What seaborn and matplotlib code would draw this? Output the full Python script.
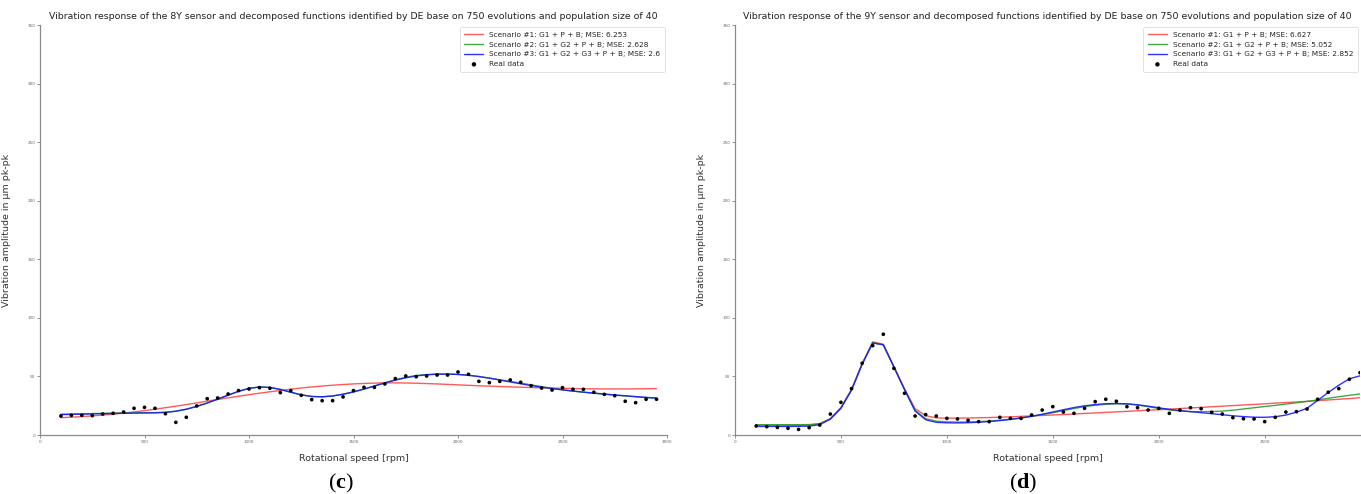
import numpy as np
import pandas as pd
import matplotlib
matplotlib.use("Agg")
import matplotlib.pyplot as plt
import seaborn as sns

# ---------------- data ----------------
rpm = list(range(100, 3000, 50))

data_8y = [16.2, 16.8, 16.8, 16.5, 17.9, 18.5, 19.6, 22.8, 23.6, 22.8,
           18.2, 10.8, 15.1, 24.8, 31.0, 31.6, 35.0, 37.9, 39.3, 40.4,
           39.9, 36.2, 37.9, 33.9, 30.2, 29.3, 29.3, 32.5, 37.9, 40.7,
           40.7, 43.6, 48.1, 50.4, 49.8, 50.4, 51.2, 51.2, 53.8, 51.8,
           45.8, 44.7, 45.8, 47.0, 45.0, 42.1, 40.1, 38.4, 40.4, 39.0,
           39.0, 36.5, 34.7, 33.6, 28.8, 27.6, 30.5, 30.5]

s1_8y = [14.8, 15.2, 15.7, 16.3, 17.0, 17.8, 18.7, 19.7, 20.8, 22.0,
         23.3, 24.6, 26.0, 27.4, 28.9, 30.3, 31.7, 33.1, 34.4, 35.7,
         36.9, 38.0, 39.1, 40.1, 41.0, 41.8, 42.5, 43.1, 43.6, 44.0,
         44.3, 44.5, 44.5, 44.4, 44.2, 43.9, 43.6, 43.2, 42.8, 42.4,
         42.0, 41.7, 41.4, 41.1, 40.8, 40.5, 40.3, 40.1, 39.9, 39.7,
         39.5, 39.4, 39.3, 39.3, 39.3, 39.4, 39.5, 39.6]

s2_8y = [17.7, 17.9, 18.1, 18.3, 18.5, 18.6, 18.8, 18.9, 19.0, 19.1,
         19.4, 20.3, 22.0, 24.4, 27.3, 30.6, 34.0, 37.3, 39.8, 41.0,
         40.6, 38.9, 36.5, 34.3, 32.9, 32.6, 33.3, 34.8, 36.8, 39.2,
         41.9, 44.6, 47.2, 49.3, 50.8, 51.6, 52.0, 52.0, 51.7, 51.0,
         49.9, 48.6, 47.2, 45.8, 44.3, 42.8, 41.3, 39.9, 38.6, 37.5,
         36.5, 35.6, 34.8, 34.0, 33.3, 32.6, 32.0, 31.4]

s3_8y = [17.4, 17.6, 17.8, 18.0, 18.2, 18.4, 18.6, 18.7, 18.8, 18.9,
         19.3, 20.3, 22.0, 24.4, 27.3, 30.6, 34.0, 37.3, 39.8, 41.0,
         40.6, 38.9, 36.5, 34.3, 32.9, 32.6, 33.3, 34.8, 36.8, 39.2,
         41.8, 44.4, 46.8, 48.8, 50.4, 51.4, 51.9, 52.0, 51.7, 51.0,
         49.9, 48.5, 46.9, 45.3, 43.7, 42.2, 40.8, 39.6, 38.5, 37.5,
         36.6, 35.8, 35.0, 34.2, 33.5, 32.8, 32.1, 31.5]

data_9y = [7.7, 7.1, 6.5, 5.7, 4.8, 6.3, 8.5, 17.9, 27.9, 39.6,
           61.2, 76.3, 86.0, 56.9, 35.6, 16.2, 17.4, 16.2, 14.2, 13.7,
           12.5, 11.4, 11.4, 15.1, 14.2, 14.2, 17.1, 21.3, 24.2, 19.6,
           18.5, 22.8, 28.5, 30.5, 28.8, 24.2, 23.3, 21.3, 22.8, 18.5,
           21.3, 23.3, 22.5, 19.4, 17.9, 14.8, 13.9, 13.7, 11.4, 15.1,
           19.6, 19.9, 22.2, 30.5, 36.5, 39.6, 47.6, 53.2]

s1_9y = [8.2, 8.2, 8.2, 8.2, 8.3, 8.5, 9.5, 14.0, 23.5, 39.0,
         61.0, 79.5, 77.5, 58.5, 39.5, 22.5, 16.5, 14.6, 14.4, 14.4,
         14.5, 14.7, 14.9, 15.2, 15.5, 15.9, 16.3, 16.7, 17.1, 17.5,
         17.9, 18.4, 18.8, 19.3, 19.7, 20.2, 20.7, 21.2, 21.6, 22.1,
         22.6, 23.1, 23.6, 24.1, 24.6, 25.1, 25.6, 26.1, 26.6, 27.2,
         27.7, 28.2, 28.7, 29.3, 29.9, 30.5, 31.1, 31.8]

s2_9y = [8.8, 8.8, 8.8, 8.8, 8.8, 8.9, 9.7, 13.8, 23.0, 38.5,
         60.5, 78.8, 77.0, 58.0, 39.0, 21.0, 14.0, 11.8, 11.2, 11.0,
         11.1, 11.4, 11.9, 12.6, 13.5, 14.6, 15.9, 17.4, 19.0, 20.8,
         22.6, 24.2, 25.4, 26.2, 26.6, 26.5, 25.6, 24.2, 22.7, 21.5,
         20.6, 20.0, 19.9, 20.0, 20.4, 21.2, 22.2, 23.3, 24.3, 25.3,
         26.4, 27.5, 28.7, 29.9, 31.3, 32.7, 33.9, 35.0]

s3_9y = [7.3, 7.3, 7.3, 7.3, 7.4, 7.6, 8.8, 13.5, 22.8, 38.3,
         60.3, 78.5, 77.0, 58.0, 38.8, 20.5, 13.0, 10.8, 10.4, 10.3,
         10.5, 10.9, 11.5, 12.3, 13.3, 14.5, 16.0, 17.7, 19.6, 21.6,
         23.4, 24.9, 26.0, 26.7, 26.9, 26.6, 25.8, 24.6, 23.2, 21.9,
         20.8, 19.9, 19.1, 18.2, 17.3, 16.4, 15.7, 15.2, 15.1, 15.6,
         17.0, 19.5, 22.8, 29.5, 36.3, 42.5, 48.0, 50.5]

labels_8y = ["Scenario #1: G1 + P + B; MSE: 6.253",
             "Scenario #2: G1 + G2 + P + B; MSE: 2.628",
             "Scenario #3: G1 + G2 + G3 + P + B; MSE: 2.6"]
labels_9y = ["Scenario #1: G1 + P + B; MSE: 6.627",
             "Scenario #2: G1 + G2 + P + B; MSE: 5.052",
             "Scenario #3: G1 + G2 + G3 + P + B; MSE: 2.852"]

title_8y = ("Vibration response of the 8Y sensor and decomposed functions identified "
            "by DE base on 750 evolutions and population size of 40")
title_9y = ("Vibration response of the 9Y sensor and decomposed functions identified "
            "by DE base on 750 evolutions and population size of 40")

xticks = [0, 500, 1000, 1500, 2000, 2500, 3000]
yticks = [0, 50, 100, 150, 200, 250, 300, 350]

# ---------------- style ----------------
sns.set_theme(style="white")
plt.rcParams['font.family'] = ['DejaVu Sans']
plt.rcParams['mathtext.fontset'] = 'custom'
plt.rcParams['mathtext.bf'] = 'Liberation Serif:bold'

W, H = 1361, 494
fig = plt.figure(figsize=(W / 100, H / 100), dpi=100)
axL = fig.add_axes([40 / W, 59 / H, 627 / W, 410 / H])
axR = fig.add_axes([735 / W, 59 / H, 625 / W, 410 / H])


def panel(ax, data, s1, s2, s3, labels, title, xmax):
    df = pd.DataFrame({"rpm": rpm, "data": data, "s1": s1, "s2": s2, "s3": s3})
    sns.lineplot(data=df, x="rpm", y="s1", color="#ff3030", lw=1.0, alpha=0.8,
                 label=labels[0], ax=ax)
    sns.lineplot(data=df, x="rpm", y="s2", color="#1f9a1f", lw=1.0, alpha=0.85,
                 label=labels[1], ax=ax)
    sns.lineplot(data=df, x="rpm", y="s3", color="#1a1aff", lw=1.0, alpha=0.9,
                 label=labels[2], ax=ax)
    sns.scatterplot(data=df, x="rpm", y="data", color="black", s=7,
                    edgecolor="none", label="Real data", ax=ax, zorder=5)
    ax.set_xlim(0, xmax)
    ax.set_ylim(0, 350)
    ax.set_xticks([t for t in xticks if t <= xmax])
    ax.set_yticks(yticks)
    ax.tick_params(axis="both", labelsize=3, colors="#666666", length=2,
                   width=0.5, pad=1.5, bottom=True, left=True)
    for sp in ["top", "right"]:
        ax.spines[sp].set_visible(False)
    for sp in ["left", "bottom"]:
        ax.spines[sp].set_color("#8a8a8a")
        ax.spines[sp].set_linewidth(0.9)
    ax.set_xlabel("Rotational speed [rpm]", fontsize=6.8, color="#333333", labelpad=7)
    ax.set_ylabel("Vibration amplitude in µm pk-pk", fontsize=6.8, color="#333333",
                  labelpad=12)
    ax.set_title(title, fontsize=6.75, color="#222222", pad=4)
    leg = ax.legend(loc="upper right", fontsize=5.3, frameon=True, framealpha=1,
                    edgecolor="#dddddd", borderaxespad=0.3, handlelength=2.6,
                    handletextpad=0.8, labelspacing=0.5, borderpad=0.6,
                    markerscale=1.2)
    leg.get_frame().set_linewidth(0.6)


panel(axL, data_8y, s1_8y, s2_8y, s3_8y, labels_8y, title_8y, 3000)
panel(axR, data_9y, s1_9y, s2_9y, s3_9y, labels_9y, title_9y, 2950)

fig.text(341 / W, 1 - 483 / H, r"($\mathbf{c}$)", ha="center", va="center",
         fontsize=16, family="Liberation Serif", color="black")
fig.text(1023 / W, 1 - 483 / H, r"($\mathbf{d}$)", ha="center", va="center",
         fontsize=16, family="Liberation Serif", color="black")

fig.savefig("out.png", dpi=100, facecolor="white")
